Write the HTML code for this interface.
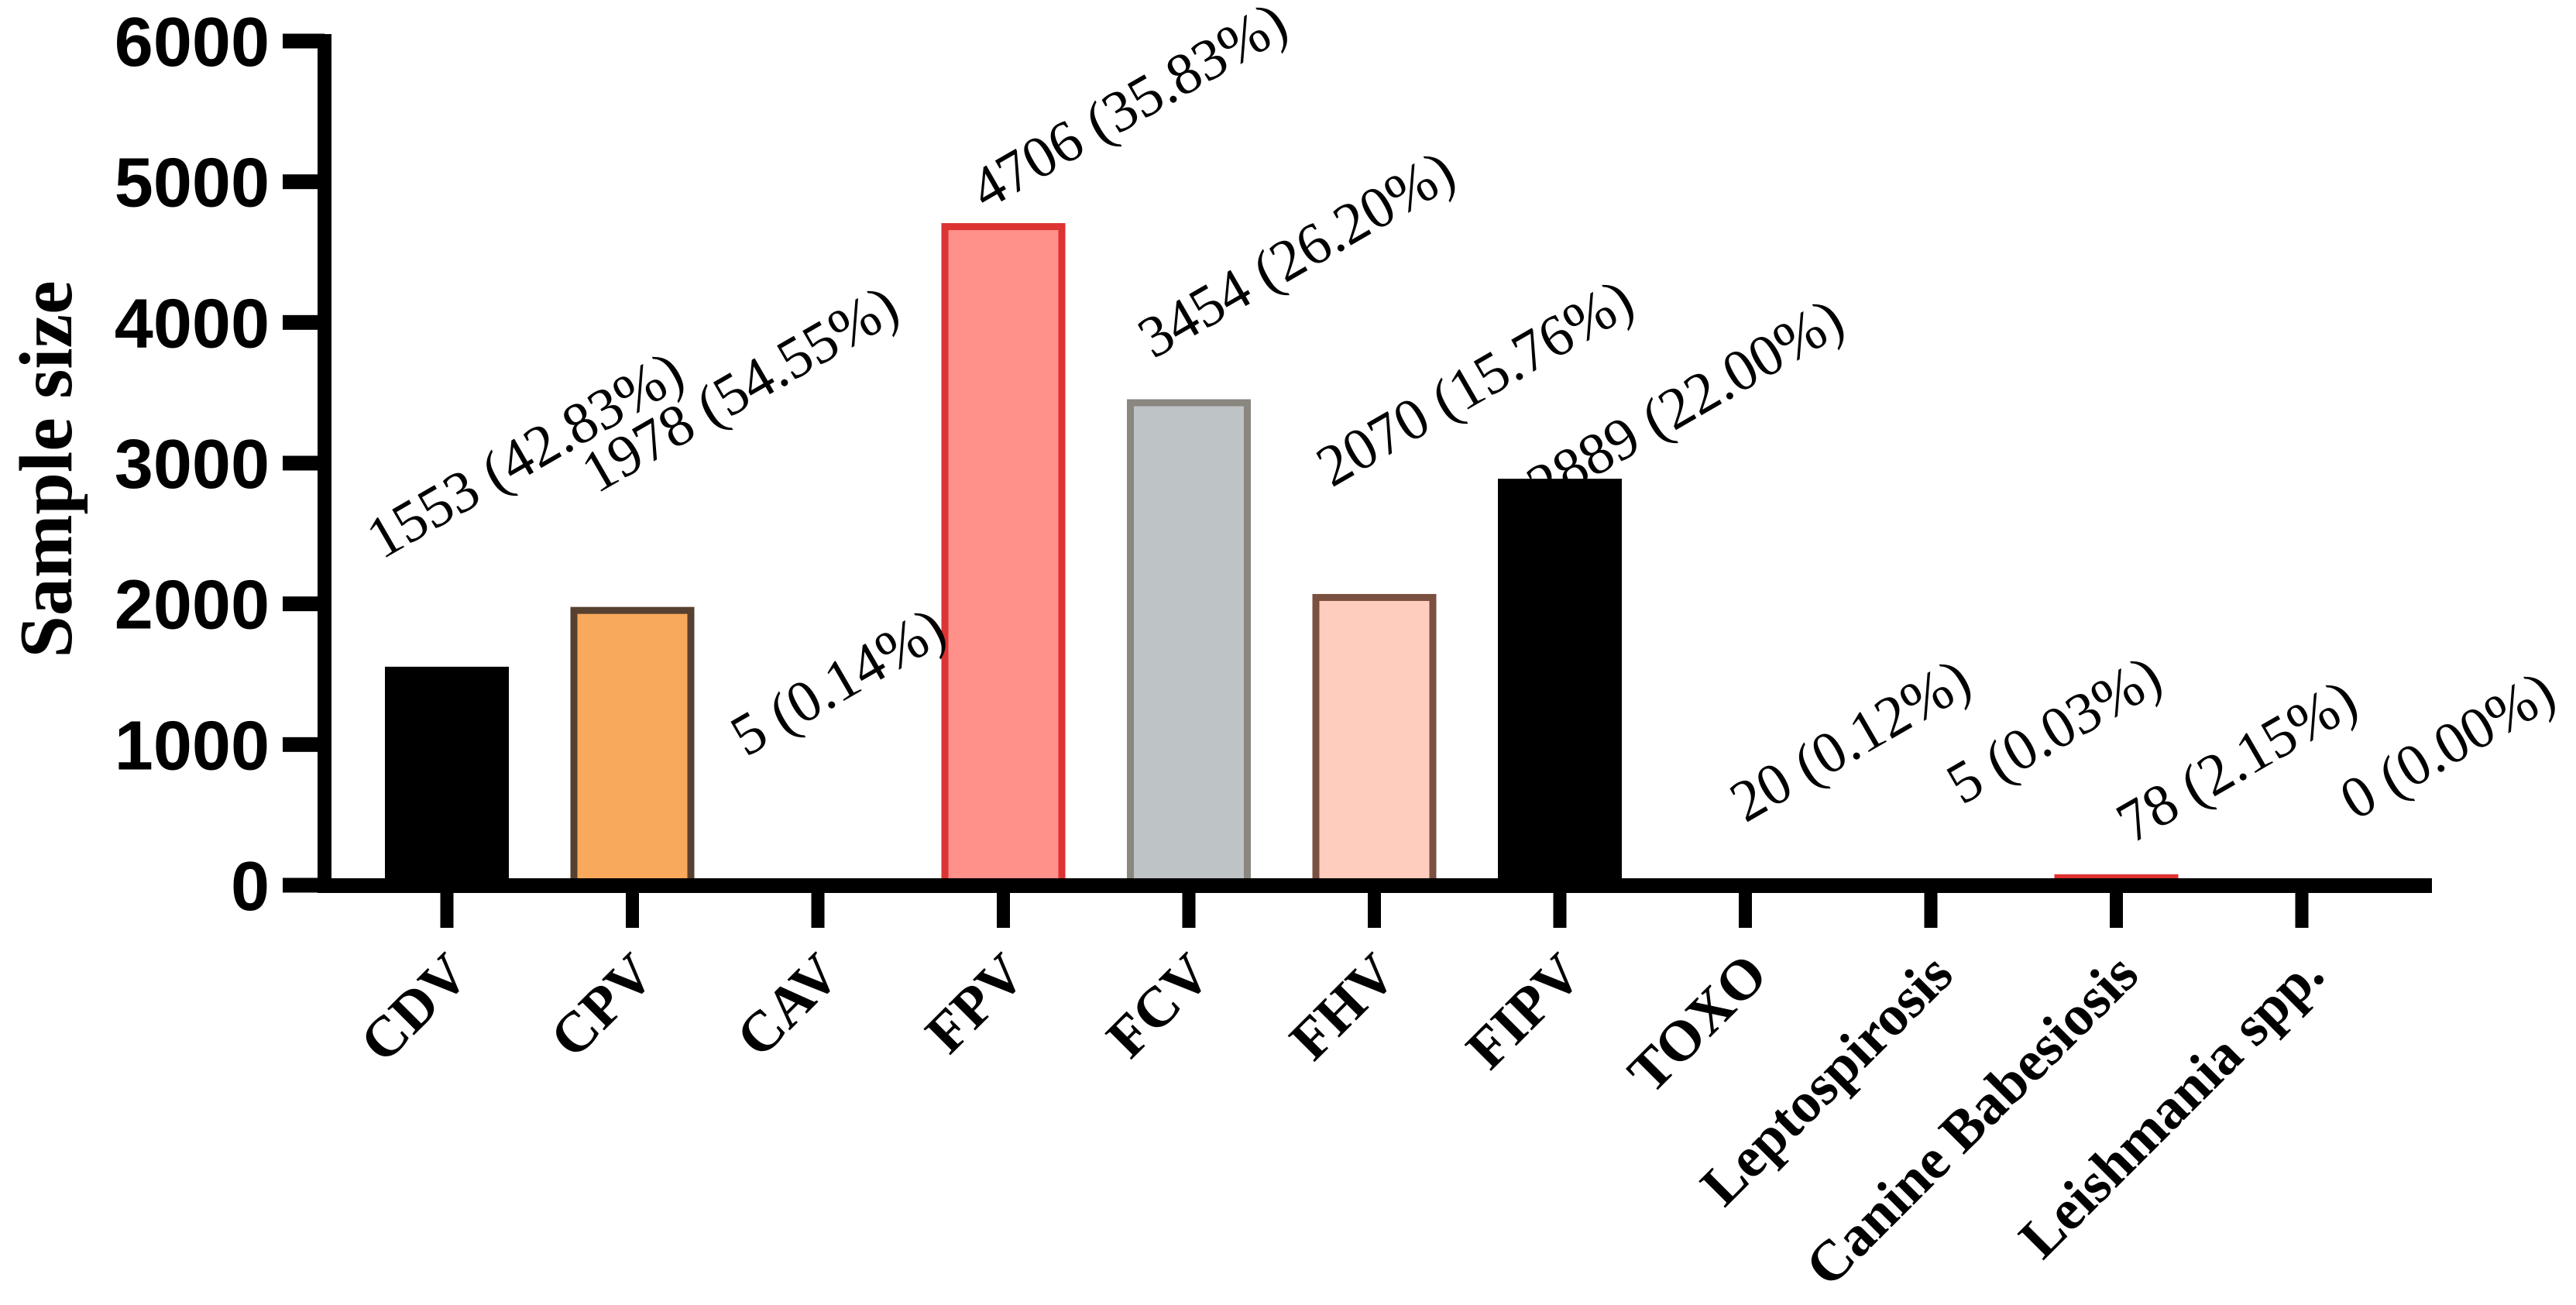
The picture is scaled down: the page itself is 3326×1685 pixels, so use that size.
<!DOCTYPE html>
<html><head><meta charset="utf-8"><style>
html,body{margin:0;padding:0;background:#fff;}
svg{display:block;}
</style></head><body>
<svg id="chart" width="3326" height="1685" viewBox="0 0 3326 1685" xmlns="http://www.w3.org/2000/svg">
<g id="bars"></g>
<g id="axes"></g>
<g id="labels"></g>
<text transform="translate(92,606) rotate(-90)" text-anchor="middle" style="font-family:'Liberation Serif',serif;font-weight:bold;font-size:98px">Sample size</text>
</svg>
<script>
const categories = ["CDV","CPV","CAV","FPV","FCV","FHV","FIPV","TOXO","Leptospirosis","Canine Babesiosis","Leishmania spp."];
const values = [1553,1978,5,4706,3454,2070,2889,20,5,78,0];
const valueLabels = ["1553 (42.83%)","1978 (54.55%)","5 (0.14%)","4706 (35.83%)","3454 (26.20%)","2070 (15.76%)","2889 (22.00%)","20 (0.12%)","5 (0.03%)","78 (2.15%)","0 (0.00%)"];
const fills = ["#000000","#F9A95B","#ffffff","#FF908A","#BEC3C6","#FFCDBE","#000000","#000000","#000000","#E03030","#000000"];
const strokes = ["#000000","#584030","#584030","#DD3333","#8A8680","#7A5040","#000000","#000000","#000000","#E03030","#000000"];
const yTicks = [0,1000,2000,3000,4000,5000,6000];
const labelDx = [-84,-46,-93,-23,-46,-55,-23,0,40,20,69];
const labelY = [723,638,978,272,464,630,655,1063,1040,1090,1060];

const NS="http://www.w3.org/2000/svg";
const y0=1143, y6=53, yMax=6000;
const x0=577, step=239.5, barW=160;
function ys(v){return y0-(v/yMax)*(y0-y6);}
function xs(i){return x0+i*step;}
function mk(tag,attrs,parent){const e=document.createElementNS(NS,tag);for(const k in attrs)e.setAttribute(k,attrs[k]);parent.appendChild(e);return e;}
const gb=document.getElementById('bars'), ga=document.getElementById('axes'), gl=document.getElementById('labels');

values.forEach((v,i)=>{
  const sw = (fills[i]===strokes[i]) ? 0 : 9;
  const top=ys(v), h=y0-top;
  if(h<=0) return;
  const r=mk('rect',{x:xs(i)-barW/2+sw/2,y:top+sw/2,width:barW-sw,height:Math.max(h-sw/2,0),fill:fills[i],stroke:strokes[i],'stroke-width':sw},gb);
  
  
});

let e=mk('rect',{x:410,y:44,width:18,height:1108,fill:'#000'},ga);


e=mk('rect',{x:410,y:1134,width:2730,height:19,fill:'#000'},ga);


yTicks.forEach(t=>{
  const y=ys(t);
  const tk=mk('rect',{x:365,y:y-9.5,width:54,height:19,fill:'#000'},ga);
  
  
  const tx=mk('text',{x:348,y:y+32,'text-anchor':'end',style:"font-family:'Liberation Sans',sans-serif;font-weight:bold;font-size:90px"},ga);
  tx.textContent=t;
  
  
});
categories.forEach((c,i)=>{
  const x=xs(i);
  const tk=mk('rect',{x:x-8.5,y:1143,width:17,height:55,fill:'#000'},ga);
  
  
  const tx=mk('text',{transform:'translate('+(x+32)+',1262) rotate(-45)','text-anchor':'end',style:"font-family:'Liberation Serif',serif;font-weight:bold;font-size:74px"},ga);
  tx.textContent=c;
  
  
});
valueLabels.forEach((s,i)=>{
  const tx=mk('text',{transform:'translate('+(xs(i)+labelDx[i])+','+labelY[i]+') rotate(-30)',style:"font-family:'Liberation Serif',serif;font-size:76px"},gl);
  tx.textContent=s;
  
  
});
</script>
</body></html>
